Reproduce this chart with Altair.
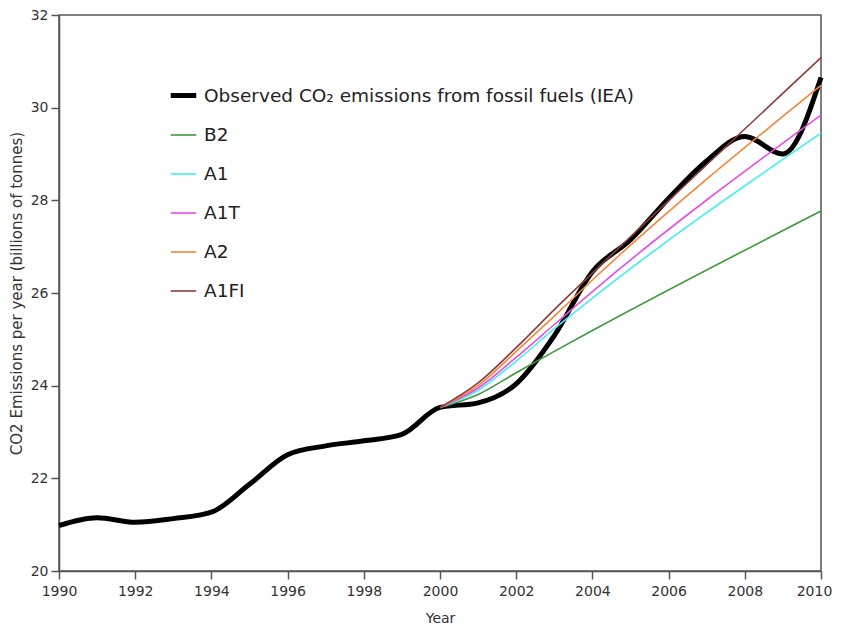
import altair as alt
import pandas as pd

years = list(range(1990, 2011))
observed = [20.98, 21.15, 21.05, 21.13, 21.27, 21.87, 22.51, 22.70, 22.81, 22.95,
            23.53, 23.63, 24.04, 25.08, 26.46, 27.15, 28.04, 28.85, 29.38, 29.00, 30.65]

scen_years = [2000, 2001, 2002, 2003, 2004, 2010]
B2 = [23.53, 23.81, 24.28, 24.74, 25.19, 27.77]
A1 = [23.53, 23.90, 24.53, 25.23, 25.89, 29.45]
A1T = [23.53, 23.95, 24.61, 25.32, 26.03, 29.84]
A2 = [23.53, 24.00, 24.74, 25.50, 26.28, 30.48]
A1FI = [23.53, 24.06, 24.82, 25.64, 26.43, 31.08]

obs_name = "Observed CO\u2082 emissions from fossil fuels (IEA)"
series_order = [obs_name, "B2", "A1", "A1T", "A2", "A1FI"]
colors = ["#000000", "#3a9a3a", "#40f0f0", "#e84de8", "#f58535", "#8e3b3b"]
widths = [5, 1.6, 1.6, 1.6, 1.6, 1.6]

rows = [{"year": y, "value": v, "series": obs_name} for y, v in zip(years, observed)]
for name, vals in [("B2", B2), ("A1", A1), ("A1T", A1T), ("A2", A2), ("A1FI", A1FI)]:
    rows += [{"year": y, "value": v, "series": name} for y, v in zip(scen_years, vals)]
df = pd.DataFrame(rows)
df["order"] = df["series"].map({s: -i for i, s in enumerate(series_order)})

font = "DejaVu Sans"

legend_kw = dict(orient="none", legendX=109, legendY=65, symbolType="stroke",
                 symbolSize=650, labelFontSize=18.5, rowPadding=15,
                 labelOffset=5, labelLimit=700, padding=0)

chart = alt.Chart(df).mark_line(interpolate="monotone").encode(
    x=alt.X("year:Q", title="Year",
            scale=alt.Scale(domain=[1990, 2010], nice=False),
            axis=alt.Axis(values=list(range(1990, 2011, 2)), format="d", grid=False,
                          tickSize=8, labelFontSize=14, titleFontSize=14,
                          labelFlush=False, labelOverlap=False,
                          labelOffset=alt.ExprRef("datum.value == 2010 ? -7 : 0"),
                          labelPadding=5, titlePadding=13, titleFontWeight="normal")),
    y=alt.Y("value:Q", title="CO2 Emissions per year (billions of tonnes)",
            scale=alt.Scale(domain=[20, 32], nice=False, zero=False),
            axis=alt.Axis(values=list(range(20, 33, 2)), grid=False, tickSize=8,
                          labelFontSize=14, titleFontSize=15, labelPadding=3,
                          labelFlush=False,
                          titlePadding=6, titleFontWeight="normal")),
    color=alt.Color("series:N", title=None,
                    scale=alt.Scale(domain=series_order, range=colors),
                    legend=alt.Legend(**legend_kw)),
    strokeWidth=alt.StrokeWidth("series:N", title=None,
                                scale=alt.Scale(type="ordinal", domain=series_order, range=widths),
                                legend=alt.Legend(**legend_kw)),
    order=alt.Order("order:Q"),
    detail="series:N",
).properties(
    width=762, height=556,
    padding={"left": 51, "top": 7, "right": 12, "bottom": 58},
    autosize=alt.AutoSizeParams(type="none"),
).configure(
    font=font,
).configure_axis(
    domainColor="#555555", tickColor="#555555", labelColor="#333333",
    titleColor="#333333", domainWidth=1.5, tickWidth=1.5,
).configure_view(
    stroke="#555555", strokeWidth=1.5,
).configure_legend(
    labelColor="#222222", labelFont=font,
)

chart.save("out.html", embed_options={"renderer": "svg", "actions": False})
